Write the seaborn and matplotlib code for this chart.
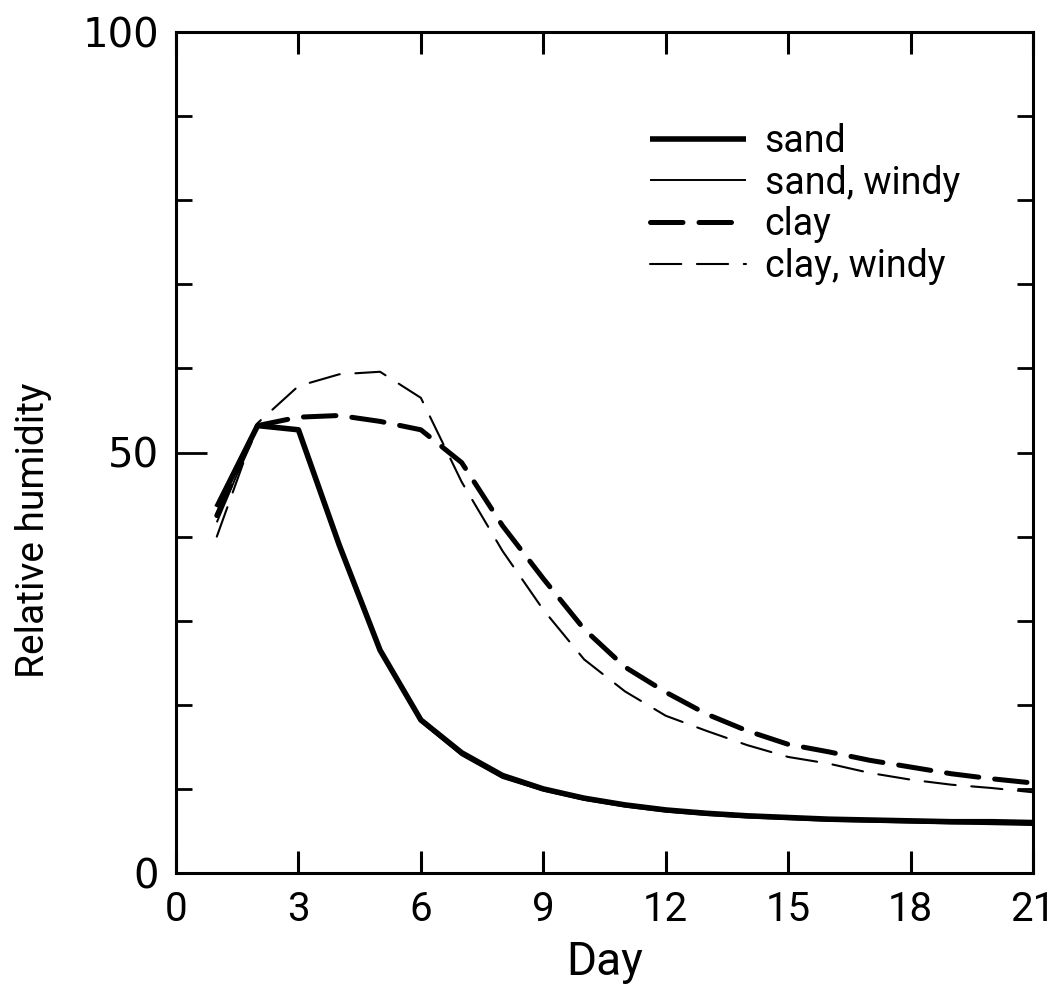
import numpy as np
import pandas as pd
import matplotlib
matplotlib.use("Agg")
import matplotlib.pyplot as plt
import seaborn as sns

# ---- data ----
days = list(range(1, 22))
sand = [43.5, 53.2, 52.7, 39.0, 26.5, 18.2, 14.3, 11.6, 10.0, 8.9, 8.1,
        7.5, 7.1, 6.8, 6.6, 6.4, 6.3, 6.2, 6.1, 6.1, 6.0]
sand_windy = [41.7, 53.2, 52.7, 38.8, 26.3, 18.0, 14.0, 11.3, 9.8, 8.7, 7.9,
              7.3, 6.9, 6.6, 6.4, 6.2, 6.1, 6.0, 5.9, 5.8, 5.7]
clay = [42.5, 53.2, 54.2, 54.4, 53.7, 52.7, 48.8, 41.3, 35.0, 29.0, 24.5,
        21.5, 18.9, 16.9, 15.3, 14.4, 13.4, 12.6, 11.8, 11.2, 10.7]
clay_windy = [40.0, 53.5, 57.9, 59.3, 59.6, 56.5, 46.5, 38.3, 31.3, 25.4, 21.6,
              18.7, 16.9, 15.2, 13.8, 13.0, 11.9, 11.1, 10.5, 10.1, 9.6]
series_names = ["sand", "sand, windy", "clay", "clay, windy"]
x_ticks = [0, 3, 6, 9, 12, 15, 18, 21]
y_major = [0, 50, 100]
y_minor = [10, 20, 30, 40, 60, 70, 80, 90]

sns.set_theme(style="ticks")
plt.rcParams["font.family"] = ["Roboto", "DejaVu Sans"]
for k in ["text.color", "axes.labelcolor", "xtick.color", "ytick.color", "axes.edgecolor"]:
    plt.rcParams[k] = "black"

fig = plt.figure(figsize=(10.62, 9.91), dpi=100)
ax = fig.add_axes([176 / 1062, 1 - 873 / 991, (1033 - 176) / 1062, (873 - 32) / 991])

df = pd.DataFrame({"day": days, "sand": sand, "sand, windy": sand_windy,
                   "clay": clay, "clay, windy": clay_windy})

styles = {
    "sand": dict(linewidth=4.0, linestyle="-"),
    "sand, windy": dict(linewidth=1.4, linestyle="-"),
    "clay": dict(linewidth=3.6, linestyle=(0, (6.5, 3.2))),
    "clay, windy": dict(linewidth=1.5, linestyle=(0, (15, 7.5))),
}
for name in series_names:
    sns.lineplot(data=df, x="day", y=name, ax=ax, color="black", label=name,
                 solid_capstyle="butt", dash_capstyle="round", **styles[name])

ax.set_xlim(0, 21)
ax.set_ylim(0, 100)
ax.set_xticks(x_ticks)
ax.set_xticklabels([str(t) for t in x_ticks])
ax.set_yticks(y_major)
ax.set_yticks(y_minor, minor=True)
ax.set_yticklabels([str(t) for t in y_major], family="DejaVu Sans", fontsize=29)

for s in ax.spines.values():
    s.set_visible(True)
    s.set_linewidth(2.2)
    s.set_color("black")

ax.tick_params(axis="x", which="major", direction="in", length=16, width=2.2,
               top=True, bottom=True, labelsize=29, pad=12)
ax.tick_params(axis="y", which="major", direction="in", length=22, width=2.0,
               left=True, right=False, pad=12)
ax.tick_params(axis="y", which="minor", direction="in", length=11.5, width=2.0,
               left=True, right=False)

# right-hand ticks (all short)
ax2 = ax.twinx()
ax2.set_ylim(0, 100)
ax2.set_yticks(y_major + y_minor)
ax2.tick_params(axis="y", direction="in", length=11.5, width=2.0, labelright=False)
for s in ax2.spines.values():
    s.set_visible(False)
ax2.grid(False)

ax.set_xlabel("Day", fontsize=33, labelpad=8)
ax.set_ylabel("Relative humidity", fontsize=28)
ax.yaxis.set_label_coords((52 - 176) / 857, (873 - 530) / 841)

leg = ax.legend(loc="upper left", bbox_to_anchor=(0.536, 0.91), frameon=False,
                fontsize=27, handlelength=2.55, handletextpad=0.5,
                labelspacing=0.13, borderaxespad=0)

fig.savefig("out.png", dpi=100)
